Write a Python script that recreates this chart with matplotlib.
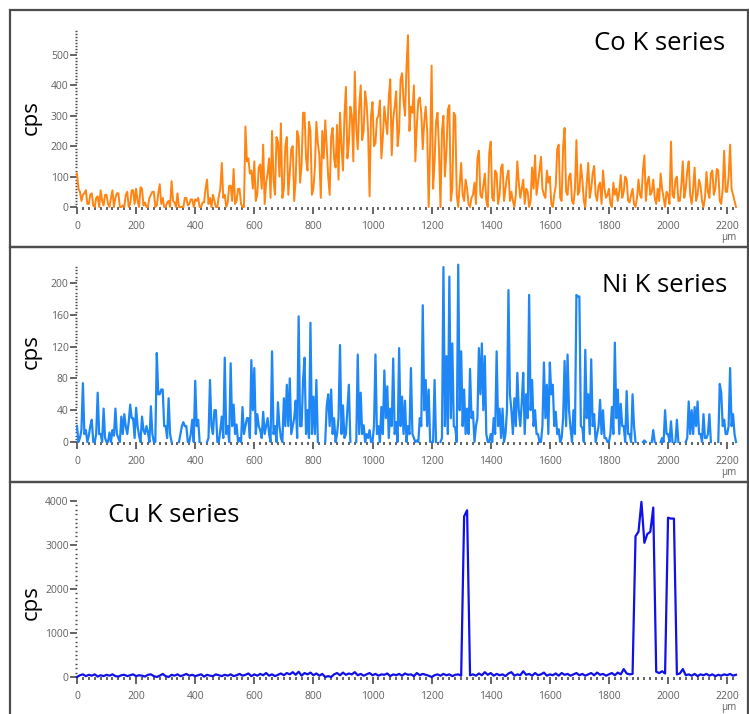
import numpy as np
import matplotlib
matplotlib.use('Agg')
import matplotlib.pyplot as plt
from matplotlib.ticker import MultipleLocator
from matplotlib.patches import Rectangle

nan = float('nan')

# Co and Ni are read every 5 um, Cu every 10 um
co_step, ni_step, cu_step = 5, 5, 10

co_cps = [
    110, 60, 50, 20, 40, 45, 55, 10, 10, 40, 45, 5, 0, 30, 35, 0, 55, 20, 5, 40,
    40, 10, 0, 30, 55, 0, 30, 45, 45, 0, 0, 5, 0, 40, 50, 0, 10, 55, 55, 10,
    60, 20, 0, 65, 60, 5, 15, 0, 0, 30, 40, 50, 50, 0, 5, 45, 75, 10, 30, 0,
    0, 15, 20, 0, 85, 20, 15, 0, 45, 0, 0, 0, 0, 30, 30, 5, 10, 25, 25, 0,
    25, 20, 30, 0, 0, 15, 15, 60, 90, 10, 30, 0, 40, 20, 0, 0, 35, 60, 145, 30,
    40, 0, 15, 70, 70, 20, 125, 10, 20, 60, 60, 10, 0, 0, 265, 150, 160, 110, 120, 60,
    150, 20, 40, 130, 140, 60, 205, 10, 80, 110, 160, 30, 250, 90, 40, 230, 215, 100, 275, 30,
    60, 200, 230, 40, 110, 190, 200, 20, 90, 250, 230, 80, 140, 310, 310, 160, 120, 280, 250, 40,
    60, 130, 280, 210, 170, 30, 250, 160, 285, 200, 100, 40, 230, 260, 160, 130, 270, 90, 310, 200,
    120, 300, 395, 160, 210, 330, 300, 150, 445, 260, 190, 330, 400, 220, 250, 380, 340, 250, 35, 300,
    345, 200, 210, 290, 300, 350, 160, 230, 330, 280, 240, 360, 420, 170, 290, 330, 380, 200, 250, 420,
    440, 350, 300, 460, 565, 250, 330, 310, 400, 150, 270, 350, 360, 310, 190, 280, 330, 250, 0, 200,
    465, 60, 150, 280, 310, 190, 0, 250, 300, 100, 180, 320, 335, 20, 60, 310, 300, 40, 0, 70,
    145, 40, 20, 90, 60, 10, 0, 30, 40, 80, 10, 160, 185, 40, 30, 70, 110, 20, 0, 180,
    215, 30, 20, 120, 110, 10, 40, 130, 140, 20, 60, 100, 120, 20, 50, 20, 0, 40, 150, 80,
    30, 60, 90, 10, 60, 50, 0, 20, 130, 60, 170, 40, 80, 120, 165, 60, 40, 30, 120, 80,
    100, 10, 0, 40, 70, 190, 205, 30, 20, 200, 260, 50, 40, 100, 110, 20, 10, 60, 220, 40,
    50, 140, 90, 20, 0, 80, 145, 30, 60, 110, 135, 40, 20, 70, 80, 10, 120, 60, 30, 40,
    60, 10, 0, 80, 40, 60, 20, 50, 105, 30, 50, 100, 90, 20, 15, 40, 60, 10, 0, 30,
    90, 40, 30, 120, 170, 20, 80, 100, 40, 50, 90, 30, 10, 60, 20, 110, 60, 30, 0, 50,
    40, 10, 215, 40, 30, 90, 100, 20, 20, 70, 150, 30, 60, 120, 150, 40, 10, 60, 130, 20,
    40, 90, 70, 20, 0, 30, 115, 50, 30, 110, 120, 40, 60, 125, 120, 20, 10, 60, 185, 50,
    50, 100, 205, 60, 40, 20, 0,
]

ni_cps = [
    20, 0, 5, 15, 74, 10, 15, 0, 8, 20, 28, 0, 0, 10, 62, 10, 10, 0, 42, 5,
    0, 0, 12, 0, 15, 8, 42, 10, 5, 0, 32, 10, 35, 20, 10, 25, 47, 30, 30, 5,
    43, 20, 8, 0, 32, 15, 10, 20, 12, 0, 45, 10, 0, 0, 112, 60, 60, 66, 66, 20,
    20, 5, 55, 10, 0, nan, nan, nan, nan, 0, 10, 20, 25, 20, 20, 0, 0, 10, 28, 0,
    77, 20, 28, 0, nan, nan, nan, nan, 0, 5, 78, 20, 10, 40, 40, 0, 0, 15, 32, 5,
    106, 10, 20, 0, 99, 20, 47, 10, 22, 0, 5, 0, 44, 10, 20, 30, 30, 5, 103, 40,
    93, 10, 35, 20, 15, 5, 38, 10, 20, 30, 10, 0, 114, 10, 20, 0, 50, 20, 5, 0,
    55, 20, 72, 20, 80, 10, 20, 30, 52, 5, 158, 20, 20, 78, 106, 10, 40, 5, 150, 10,
    57, 10, 78, 0, nan, nan, nan, nan, 0, 45, 60, 20, 66, 10, 30, 0, 10, 30, 122, 10,
    46, 5, 10, 40, 72, 0, nan, nan, nan, 0, 110, 10, 62, 10, 21, 0, 10, 5, 15, 0,
    0, 20, 110, 10, 20, 0, 44, 10, 90, 30, 70, 5, 42, 20, 105, 10, 25, 0, 118, 20,
    57, 10, 52, 0, 20, 10, 93, 10, 5, 0, 2, 0, 30, 20, 172, 40, 78, 20, 66, 0,
    0, 0, 78, 0, nan, nan, 0, 5, 220, 20, 108, 10, 208, 30, 124, 20, 18, 0, 223, 40,
    114, 20, 66, 10, 42, 10, 92, 30, 38, 0, 20, 30, 118, 60, 124, 40, 108, 10, 0, 0,
    10, 0, 30, 10, 114, 20, 42, 5, 42, 0, 10, 40, 191, 60, 40, 10, 55, 20, 87, 40,
    20, 50, 87, 10, 60, 30, 185, 40, 78, 20, 40, 10, 10, 0, 0, 20, 100, 30, 72, 10,
    100, 60, 72, 20, 38, 10, 16, 0, 5, 30, 102, 20, 110, 40, 18, 0, 40, 10, 185, 183,
    183, 20, 18, 0, 116, 30, 60, 10, 104, 20, 35, 0, 10, 20, 53, 10, 40, 5, 5, 0,
    0, 10, 44, 10, 125, 30, 66, 10, 48, 20, 20, 0, 64, 10, 10, 0, 60, 20, 0, nan,
    nan, nan, nan, 0, 2, 0, nan, nan, nan, 0, 15, 0, nan, nan, nan, 0, 5, 0, 40, 10,
    10, 0, 26, 0, nan, 0, 28, 0, nan, nan, nan, nan, 0, 5, 51, 10, 40, 10, 44, 20,
    51, 10, 10, 0, 35, 5, 5, 10, 35, 0, nan, nan, nan, nan, 0, 73, 62, 20, 28, 10,
    10, 20, 93, 20, 35, 10, 0,
]

cu_cps = [
    0, 40, 60, 20, 50, 30, 60, 10, 40, 20,
    50, 30, 60, 20, 10, 40, 50, 20, 40, 60,
    20, 40, 30, 10, 50, 60, 20, 0, 30, 70,
    20, 0, 50, 30, 60, 20, 40, 70, 30, 50,
    20, 40, 60, 10, 50, 30, 20, 60, 40, 20,
    50, 30, 60, 20, 40, 70, 30, 50, 80, 20,
    60, 30, 70, 40, 90, 30, 60, 20, 50, 80,
    40, 90, 60, 110, 50, 120, 30, 90, 60, 100,
    40, 80, 30, 70, 0, 20, 0, 60, 90, 40,
    100, 50, 80, 60, 110, 40, 70, 30, 60, 90,
    40, 70, 30, 60, 50, 80, 20, 60, 40, 70,
    30, 80, 50, 60, 20, 90, 40, 70, 50, 30,
    0, 40, 60, 30, 70, 40, 60, 20, 50, 60,
    30, 3650, 3790, 40, 60, 30, 80, 40, 110, 50,
    90, 30, 70, 40, 60, 20, 80, 110, 30, 60,
    40, 130, 50, 70, 30, 90, 40, 60, 100, 30,
    60, 40, 80, 30, 90, 50, 70, 30, 60, 90,
    40, 70, 30, 60, 90, 40, 100, 50, 70, 30,
    60, 90, 40, 100, 60, 180, 80, 60, 70, 3200,
    3300, 3980, 3050, 3250, 3300, 3850, 120, 90, 130, 80,
    3620, 3600, 3600, 60, 80, 180, 40, 60, 30, 70,
    20, 60, 40, 70, 30, 60, 20, 50, 30, 60,
    40, 70, 30, 50,
]

W, H = 749, 714
TICK_GRAY = '#4a4a4a'
LABEL_GRAY = '#606060'


def fx(px):
    return px / W


def fy(py):
    return 1 - py / H


def style_axis(ax, ymax, ymajor, yminor):
    ax.set_xlim(0, 2230)
    ax.set_ylim(0, ymax)
    for s in ax.spines.values():
        s.set_visible(False)
    ax.patch.set_alpha(0)
    ax.xaxis.set_major_locator(MultipleLocator(200))
    ax.xaxis.set_minor_locator(MultipleLocator(20))
    ax.yaxis.set_major_locator(MultipleLocator(ymajor))
    ax.yaxis.set_minor_locator(MultipleLocator(yminor))
    ax.tick_params(axis='x', which='major', direction='out', length=5, width=1.2,
                   color=TICK_GRAY, labelsize=7.5, labelcolor=LABEL_GRAY, pad=5)
    ax.tick_params(axis='x', which='minor', direction='out', length=1.8, width=1.2,
                   color=TICK_GRAY)
    ax.tick_params(axis='y', which='major', direction='out', length=5, width=1.2,
                   color=TICK_GRAY, labelsize=7.5, labelcolor=LABEL_GRAY, pad=1)
    ax.tick_params(axis='y', which='minor', direction='out', length=1.5, width=1.0,
                   color=TICK_GRAY)
    ax.text(1.0, -0.17, 'µm', transform=ax.transAxes, ha='right', va='center',
            fontsize=7, color=LABEL_GRAY)


def main():
    plt.rcParams['font.family'] = ['Open Sans', 'DejaVu Sans']
    fig = plt.figure(figsize=(W / 100, H / 100), dpi=100)

    # panel frames: (top, bottom) in pixels
    frames = [(10, 247), (247, 482), (482, 716)]
    for top, bot in frames:
        fig.add_artist(Rectangle((fx(10), fy(bot)), fx(748) - fx(10), fy(top) - fy(bot),
                                 transform=fig.transFigure, fill=False,
                                 edgecolor='#4d4d4d', linewidth=1.6))

    left, width = fx(77), fx(736) - fx(77)

    # Co panel
    ax1 = fig.add_axes([left, fy(207), width, fy(30) - fy(207)])
    ax1.plot(np.arange(len(co_cps)) * co_step, co_cps, color='#ff8412',
             linewidth=1.4, clip_on=False)
    style_axis(ax1, 582, 100, 10)
    fig.text(fx(725), fy(43), 'Co K series', ha='right', va='center',
             fontsize=18.5, color='black')
    fig.text(fx(31), fy(118), 'cps', rotation=90, ha='center', va='center',
             fontsize=16, color='black')

    # Ni panel
    ax2 = fig.add_axes([left, fy(442), width, fy(265) - fy(442)])
    ax2.plot(np.arange(len(ni_cps)) * ni_step, ni_cps, color='#1f86f5',
             linewidth=1.6, clip_on=False)
    style_axis(ax2, 222.6, 40, 4)
    fig.text(fx(727), fy(285), 'Ni K series', ha='right', va='center',
             fontsize=18.5, color='black')
    fig.text(fx(31), fy(352), 'cps', rotation=90, ha='center', va='center',
             fontsize=16, color='black')

    # Cu panel
    ax3 = fig.add_axes([left, fy(677), width, fy(498) - fy(677)])
    ax3.plot(np.arange(len(cu_cps)) * cu_step, cu_cps, color='#1010e8',
             linewidth=1.6, clip_on=False)
    style_axis(ax3, 4068, 1000, 100)
    fig.text(fx(108), fy(516), 'Cu K series', ha='left', va='center',
             fontsize=18.5, color='black')
    fig.text(fx(31), fy(603), 'cps', rotation=90, ha='center', va='center',
             fontsize=16, color='black')

    fig.savefig('out.png', dpi=100)


if __name__ == '__main__':
    main()
